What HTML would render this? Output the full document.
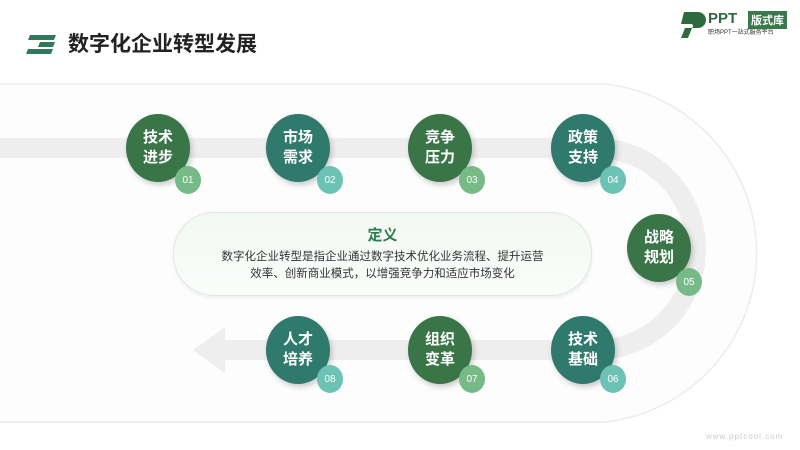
<!DOCTYPE html>
<html><head><meta charset="utf-8"><style>
body{margin:0;width:800px;height:450px;overflow:hidden;background:#fff;font-family:"Liberation Sans","Noto Sans CJK SC",sans-serif;position:relative}
.c{position:absolute;width:64px;height:68px;border-radius:50%;color:#fff;font-weight:bold;font-size:15px;line-height:20px;display:flex;align-items:center;justify-content:center;text-align:center;box-shadow:2px 3px 6px rgba(0,0,0,.2)}
.g{background:#3a7548}.t{background:#2f7a6c}
.n{position:absolute;width:26px;height:28px;border-radius:50%;color:#fff;font-size:10px;display:flex;align-items:center;justify-content:center}
.lg{background:#76bb87}.lt{background:#6cc3b5}
</style></head><body>
<svg width="800" height="450" style="position:absolute;left:0;top:0">
<path d="M0 84 H605 A170 170 0 0 1 605 422 H0" fill="#fdfdfd" stroke="#ececec" stroke-width="1.5"/>
<path d="M0 148 H595 A101 101 0 0 1 595 350 H225" fill="none" stroke="#eeeeee" stroke-width="20"/>
<polygon points="193,350 225,327 225,373" fill="#eeeeee"/>
<polygon points="30,35 56,35 54,40 28,40" fill="#2f7a5a"/>
<polygon points="40,42 55,42 53,47 38,47" fill="#2f7a5a"/>
<polygon points="28,49 53,49 51,54 26,54" fill="#2f7a5a"/>
<path d="M684 12 h14 a8 8 0 0 1 0 16 h-6 l-4 10 h-7 l4 -10 h6 a2 2 0 0 0 0 -4 h-10z" fill="#2f6a3e"/>
</svg>
<div style="position:absolute;left:68px;top:28px;font-size:21px;font-weight:bold;color:#222">数字化企业转型发展</div>
<div style="position:absolute;left:708px;top:10px;font-size:15px;font-weight:bold;color:#2f6a3e">PPT</div>
<div style="position:absolute;left:748px;top:11px;background:#3a7a4a;color:#fff;font-size:11px;font-weight:bold;padding:1px 3px">版式库</div>
<div style="position:absolute;left:708px;top:27px;font-size:6px;color:#333">职场PPT一站式服务平台</div>
<div style="position:absolute;left:173px;top:212px;width:417px;height:82px;border-radius:41px;background:linear-gradient(#f2f8f3,#fbfdfb);border:1px solid #dde8de;box-shadow:0 2px 4px rgba(0,0,0,.06);text-align:center">
<div style="margin-top:11px;font-size:15px;font-weight:bold;color:#2e7d4f">定义</div>
<div style="margin-top:4px;font-size:11.5px;line-height:17px;color:#333">数字化企业转型是指企业通过数字技术优化业务流程、提升运营<br>效率、创新商业模式，以增强竞争力和适应市场变化</div></div>
<div class="c g" style="left:126px;top:114px">技术<br>进步</div><div class="n lg" style="left:175px;top:166px">01</div>
<div class="c t" style="left:266px;top:114px">市场<br>需求</div><div class="n lt" style="left:317px;top:166px">02</div>
<div class="c g" style="left:408px;top:114px">竞争<br>压力</div><div class="n lg" style="left:459px;top:166px">03</div>
<div class="c t" style="left:551px;top:114px">政策<br>支持</div><div class="n lt" style="left:600px;top:166px">04</div>
<div class="c g" style="left:627px;top:214px">战略<br>规划</div><div class="n lg" style="left:676px;top:268px">05</div>
<div class="c t" style="left:551px;top:316px">技术<br>基础</div><div class="n lt" style="left:600px;top:365px">06</div>
<div class="c g" style="left:408px;top:316px">组织<br>变革</div><div class="n lg" style="left:459px;top:365px">07</div>
<div class="c t" style="left:266px;top:316px">人才<br>培养</div><div class="n lt" style="left:317px;top:365px">08</div>
<div style="position:absolute;left:706px;top:432px;font-size:8px;color:#ccc;letter-spacing:1px">www.pptcool.com</div>
</body></html>
